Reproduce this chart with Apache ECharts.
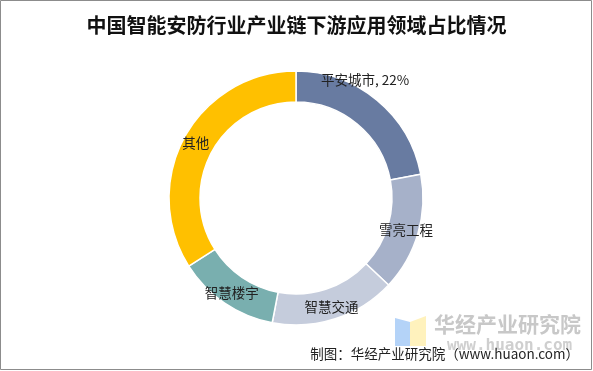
<!DOCTYPE html>
<html><head><meta charset="utf-8">
<script src="https://cdn.jsdelivr.net/npm/echarts@6/dist/echarts.min.js"></script>
<style>
html,body{margin:0;padding:0;background:#fff;}
#c{width:593px;height:371px;}
</style></head>
<body><div id="c"></div>
<script>
const titleText = '中国智能安防行业产业链下游应用领域占比情况';
const categories = ['平安城市', '雪亮工程', '智慧交通', '智慧楼宇', '其他'];
const values = [22, 15, 16, 13, 34];
const colors = ['#687BA1', '#A6B1C9', '#C5CCDC', '#79AFAF', '#FFC000'];
const showPercent = [true, false, false, false, false];
const footerText = '制图：华经产业研究院（www.huaon.com）';

const chart = echarts.init(document.getElementById('c'));
chart.setOption({
  animation: false,
  backgroundColor: '#fff',
  title: {
    text: titleText, left: 'center', top: 10,
    textStyle: {fontFamily: '"Noto Sans CJK SC"', fontSize: 20, fontWeight: 'bold', color: '#111'}
  },
  graphic: [
    {type: 'rect', shape: {x: 0.5, y: 0.5, width: 591, height: 369}, style: {fill: 'none', stroke: '#8c8c8c', lineWidth: 1}, z: 100},
    {type: 'polygon', shape: {points: [[395, 318], [410, 322], [410, 346], [395, 346]]}, style: {fill: '#B4D3F8'}, z: 1},
    {type: 'polygon', shape: {points: [[410, 322], [426, 316], [426, 346], [410, 346]]}, style: {fill: '#FFF2BD'}, z: 1},
    {type: 'text', left: 434, top: 314, style: {text: '华经产业研究院', font: 'bold 21px "Noto Sans CJK SC"', fill: '#C8C8C8'}, z: 1},
    {type: 'text', left: 447, top: 338, style: {text: 'www.huaon.com', font: 'bold 16px "DejaVu Sans Mono"', fill: '#CFCFCF'}, z: 1},
    {type: 'text', right: 14, top: 347, style: {text: footerText, font: '13.5px "Noto Sans CJK SC"', fill: '#222'}, z: 10}
  ],
  series: [{
    type: 'pie',
    center: [296, 198],
    radius: [96, 127],
    startAngle: 90,
    clockwise: true,
    itemStyle: {borderColor: '#fff', borderWidth: 1.5},
    label: {
      position: 'inside', color: '#222', fontSize: 13.5, fontFamily: '"Noto Sans CJK SC"',
      formatter: p => showPercent[p.dataIndex] ? p.name + ', ' + p.value + '%' : p.name
    },
    labelLayout: p => p.dataIndex === 0 ? {dx: -4, dy: -30} : {},
    labelLine: {show: false},
    emphasis: {disabled: true},
    data: categories.map((n, i) => ({name: n, value: values[i], itemStyle: {color: colors[i]}}))
  }]
});
</script></body></html>
